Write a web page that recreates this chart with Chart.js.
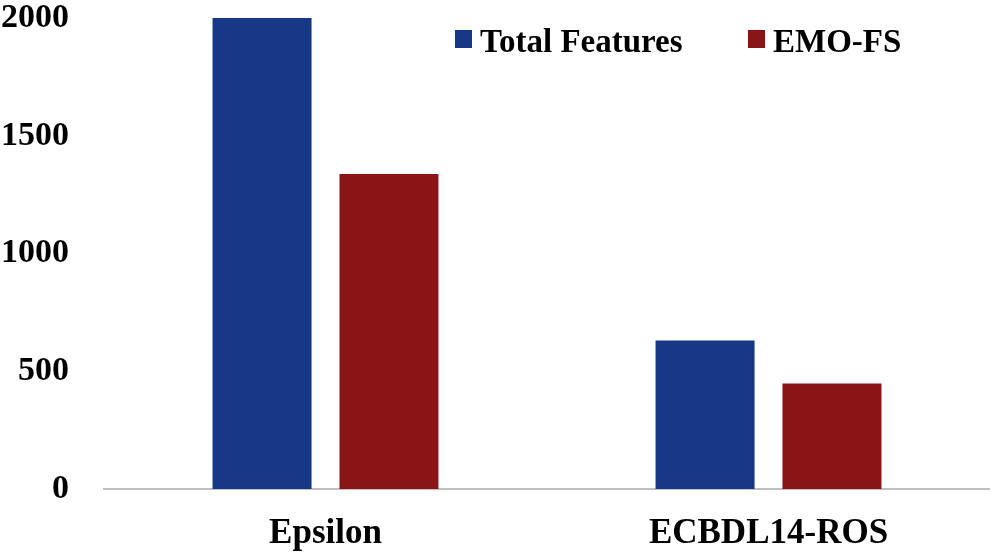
<!DOCTYPE html>
<html>
<head>
<meta charset="utf-8">
<script src="https://cdn.jsdelivr.net/npm/chart.js@4.4.1/dist/chart.umd.min.js"></script>
<style>
html,body{margin:0;padding:0;background:#fff;}
#wrap{width:990px;height:552px;position:relative;}
</style>
</head>
<body>
<div id="wrap"><canvas id="c" width="990" height="552"></canvas></div>
<script>
const categories = ["Epsilon", "ECBDL14-ROS"];
const seriesNames = ["Total Features", "EMO-FS"];
const totalFeatures = [2000, 631];
const emoFS = [1338, 448];
const yTicks = [0, 500, 1000, 1500, 2000];
const colors = ["#163886", "#8a1516"];

const FONT = "'Liberation Serif','Times New Roman',serif";

const legendPlugin = {
  id: 'customLegend',
  afterDraw(chart) {
    const ctx = chart.ctx;
    const ca = chart.chartArea;
    const items = [
      {x: ca.right - 535, label: chart.data.datasets[0].label, color: chart.data.datasets[0].backgroundColor},
      {x: ca.right - 242, label: chart.data.datasets[1].label, color: chart.data.datasets[1].backgroundColor}
    ];
    ctx.save();
    ctx.font = "bold 33px " + FONT;
    ctx.textBaseline = 'alphabetic';
    ctx.textAlign = 'left';
    items.forEach(it => {
      ctx.fillStyle = it.color;
      ctx.fillRect(it.x, 30, 17, 18);
      ctx.fillStyle = '#000';
      ctx.fillText(it.label, it.x + 25, 52);
    });
    ctx.restore();
  }
};

new Chart(document.getElementById('c'), {
  type: 'bar',
  data: {
    labels: categories,
    datasets: [
      {label: seriesNames[0], data: totalFeatures, backgroundColor: colors[0], categoryPercentage: 0.573, barPercentage: 0.78},
      {label: seriesNames[1], data: emoFS, backgroundColor: colors[1], categoryPercentage: 0.573, barPercentage: 0.78}
    ]
  },
  options: {
    responsive: false,
    animation: false,
    layout: {padding: 0},
    plugins: {legend: {display: false}, tooltip: {enabled: false}},
    scales: {
      x: {
        grid: {display: false, drawTicks: false},
        border: {display: true, color: '#bfbfbf', width: 2},
        ticks: {color: '#000', font: {family: FONT, size: 35, weight: 'bold'}, padding: 24},
        afterFit(axis) { axis.height = 63; }
      },
      y: {
        min: 0, max: 2000,
        afterBuildTicks(axis) { axis.ticks = yTicks.map(v => ({value: v})); },
        grid: {display: false, drawTicks: false},
        border: {display: false},
        ticks: {color: '#000', font: {family: FONT, size: 34, weight: 'bold'}, padding: 35,
                callback: (v) => String(v)},
        afterFit(axis) { axis.width = 104; axis.paddingTop = 18; axis.paddingBottom = 0; }
      }
    }
  },
  plugins: [legendPlugin]
});
</script>
</body>
</html>
